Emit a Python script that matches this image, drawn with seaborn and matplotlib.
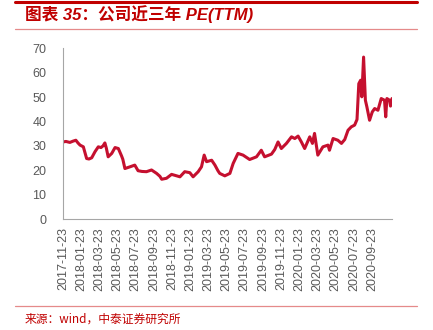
import matplotlib
matplotlib.use("Agg")
import matplotlib.pyplot as plt
from matplotlib.lines import Line2D
import seaborn as sns
import pandas as pd

dates = [
    "2017-11-23", "2017-12-03", "2017-12-16", "2017-12-26", "2018-01-05", "2018-01-12",
    "2018-01-19", "2018-01-30", "2018-02-10", "2018-02-18", "2018-02-27", "2018-03-10",
    "2018-03-21", "2018-03-30", "2018-04-06", "2018-04-12", "2018-04-17", "2018-04-23",
    "2018-05-05", "2018-05-16", "2018-05-27", "2018-06-01", "2018-06-07", "2018-06-11",
    "2018-06-18", "2018-07-05", "2018-07-21", "2018-08-01", "2018-08-14", "2018-08-29",
    "2018-09-15", "2018-10-02", "2018-10-13", "2018-10-19", "2018-11-04", "2018-11-21",
    "2018-12-08", "2018-12-19", "2019-01-04", "2019-01-21", "2019-02-01", "2019-02-18",
    "2019-03-01", "2019-03-10", "2019-03-18", "2019-04-04", "2019-04-15", "2019-04-25",
    "2019-05-01", "2019-05-18", "2019-06-04", "2019-06-15", "2019-07-01", "2019-07-18",
    "2019-08-09", "2019-09-01", "2019-09-17", "2019-09-28", "2019-10-21", "2019-11-01",
    "2019-11-12", "2019-11-23", "2019-12-10", "2019-12-27", "2020-01-07", "2020-01-18",
    "2020-01-29", "2020-02-09", "2020-02-26", "2020-03-06", "2020-03-13", "2020-03-24",
    "2020-04-10", "2020-04-27", "2020-05-02", "2020-05-14", "2020-05-30", "2020-06-11",
    "2020-06-22", "2020-07-03", "2020-07-14", "2020-07-25", "2020-08-02", "2020-08-08",
    "2020-08-14", "2020-08-18", "2020-08-24", "2020-08-30", "2020-09-04", "2020-09-13",
    "2020-09-22", "2020-09-30", "2020-10-11", "2020-10-22", "2020-11-02", "2020-11-06",
    "2020-11-10", "2020-11-19", "2020-11-22", "2020-11-27",
]
pe_ttm = [
    31.6, 31.8, 31.4, 31.9, 32.3, 31.2,
    30.3, 29.6, 24.8, 24.6, 25.1, 27.6,
    29.6, 29.3, 30.0, 31.2, 29.0, 25.5,
    26.9, 29.3, 28.9, 27.5, 25.8, 24.5,
    20.7, 21.4, 22.1, 19.8, 19.5, 19.4,
    20.1, 18.7, 17.5, 16.3, 16.7, 18.3,
    17.7, 17.3, 19.4, 19.0, 17.3, 19.4,
    21.4, 26.2, 23.5, 24.1, 22.1, 19.8,
    18.7, 17.7, 18.7, 22.8, 26.9, 26.2,
    24.4, 25.5, 28.2, 25.5, 26.6, 28.5,
    31.6, 28.9, 31.0, 33.7, 33.0, 34.0,
    31.6, 28.9, 33.7, 31.0, 35.1, 26.2,
    29.6, 30.3, 28.2, 33.0, 32.3, 31.0,
    32.6, 36.4, 37.8, 38.5, 40.8, 55.5,
    56.9, 50.1, 66.4, 48.7, 46.0, 40.5,
    43.9, 45.3, 44.6, 49.4, 48.7, 41.9,
    49.4, 48.7, 46.3, 49.4,
]
tick_labels = [
    "2017-11-23", "2018-01-23", "2018-03-23", "2018-05-23", "2018-07-23", "2018-09-23",
    "2018-11-23", "2019-01-23", "2019-03-23", "2019-05-23", "2019-07-23", "2019-09-23",
    "2019-11-23", "2020-01-23", "2020-03-23", "2020-05-23", "2020-07-23", "2020-09-23",
]
y_ticks = [0, 10, 20, 30, 40, 50, 60, 70]
title_text = "图表 35：公司近三年 PE(TTM)"
source_text = "来源：wind，中泰证券研究所"

sns.set_style("white")
plt.rcParams["font.family"] = ["Liberation Sans", "Noto Sans CJK SC", "DejaVu Sans"]

df = pd.DataFrame({"date": pd.to_datetime(dates), "pe": pe_ttm})

W, H = 433, 330
fig = plt.figure(figsize=(W / 100, H / 100), dpi=100)
ax = fig.add_axes([63 / W, 1 - 219 / H, (392 - 63) / W, (219 - 48.3) / H])

line_color = "#C5102F"
sns.lineplot(data=df, x="date", y="pe", ax=ax, color=line_color, linewidth=2.2)

ax.set_xlim(pd.Timestamp("2017-11-23"), pd.Timestamp("2020-11-27"))
ax.set_ylim(0, 70)
ax.set_yticks(y_ticks)
ax.set_xticks(pd.to_datetime(tick_labels))
ax.set_xticklabels(tick_labels, rotation=90)
ax.set_xlabel("")
ax.set_ylabel("")

grey = "#A6A6A6"
for s in ["top", "right"]:
    ax.spines[s].set_visible(False)
for s in ["left", "bottom"]:
    ax.spines[s].set_color(grey)
    ax.spines[s].set_linewidth(0.8)
ax.tick_params(axis="both", which="both", length=3, width=0.8, color=grey,
               labelcolor="#595959", labelsize=9, direction="out")
ax.tick_params(axis="y", pad=9)
ax.tick_params(axis="x", pad=3)

red = "#C00000"
fig.add_artist(Line2D([15 / W, 417 / W], [1 - 2 / H] * 2, color=red, linewidth=2.2))
fig.add_artist(Line2D([15 / W, 417 / W], [1 - 28.5 / H] * 2, color="#E58A8A", linewidth=0.9))
fig.add_artist(Line2D([15 / W, 417 / W], [1 - 306 / H] * 2, color="#E58A8A", linewidth=0.9))

fig.text(25 / W, 1 - 14 / H, title_text, color=red, fontsize=12, fontweight="bold",
         fontstyle="italic", va="center", ha="left",
         family=["Liberation Sans", "Noto Sans CJK SC"])
fig.text(25 / W, 1 - 319 / H, source_text, color=red, fontsize=8.5, va="center", ha="left",
         family=["Noto Sans CJK SC", "DejaVu Sans"])

fig.savefig("out.png", dpi=100)
